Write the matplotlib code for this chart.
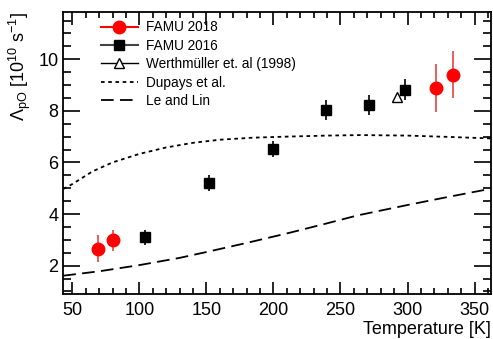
import numpy as np
import matplotlib
matplotlib.use('Agg')
import matplotlib.pyplot as plt
from matplotlib.ticker import MultipleLocator
from matplotlib.lines import Line2D

plt.rcParams['font.family'] = ['Liberation Sans', 'DejaVu Sans']
plt.rcParams['mathtext.fontset'] = 'custom'
plt.rcParams['mathtext.rm'] = 'Liberation Sans'
plt.rcParams['mathtext.it'] = 'Liberation Sans'

# FAMU 2018
t_2018 = [69.5, 80, 321, 334]
rate_2018 = [2.65, 2.98, 8.9, 9.4]
err_2018 = [0.52, 0.4, 0.93, 0.9]

# FAMU 2016
t_2016 = [104, 152, 200, 239, 271, 298]
rate_2016 = [3.1, 5.2, 6.52, 8.03, 8.23, 8.82]
err_2016 = [0.3, 0.3, 0.3, 0.4, 0.4, 0.4]

# Werthmueller et al. (1998)
t_wert = [292]
rate_wert = [8.54]

# Dupays et al. (theory)
t_dupays = [43.3, 50, 65, 80, 100, 120, 140, 160, 185, 210, 240, 265, 300, 330, 362]
rate_dupays = [4.97, 5.16, 5.65, 6.0, 6.33, 6.58, 6.76, 6.88, 6.96, 7.0, 7.04, 7.06, 7.04, 6.99, 6.93]

# Le and Lin (theory)
t_lelin = [43.3, 70, 100, 130, 152, 180, 211, 240, 263, 300, 330, 362]
rate_lelin = [1.61, 1.78, 2.02, 2.3, 2.55, 2.88, 3.26, 3.64, 3.95, 4.35, 4.66, 4.98]

dpi = 100
fig = plt.figure(figsize=(493 / dpi, 339 / dpi), dpi=dpi)
ax = fig.add_axes([0.1284, 0.1327, 0.9953 - 0.1284, 0.9646 - 0.1327])

ax.plot(t_dupays, rate_dupays, color='black', linestyle=(0, (2, 2)), linewidth=1.3)
ax.plot(t_lelin, rate_lelin, color='black', linestyle=(0, (7, 3.5)), linewidth=1.3)

ax.errorbar(t_2016, rate_2016, yerr=err_2016, fmt='s', color='black', markersize=7,
            elinewidth=1.2, capsize=0)
ax.plot(t_wert, rate_wert, '^', markerfacecolor='white', markeredgecolor='black',
        markersize=7, markeredgewidth=1)
ax.errorbar(t_2018, rate_2018, yerr=err_2018, fmt='o', color='red', ecolor='#f04040',
            markersize=9, elinewidth=1.2, capsize=0)

ax.set_xlim(43.3, 362)
ax.set_ylim(0.9, 11.83)
ax.xaxis.set_major_locator(MultipleLocator(50))
ax.xaxis.set_minor_locator(MultipleLocator(10))
ax.yaxis.set_major_locator(MultipleLocator(2))
ax.yaxis.set_minor_locator(MultipleLocator(0.5))
ax.tick_params(which='both', direction='in', top=True, right=True, labelsize=13, width=1.2)
ax.tick_params(axis='x', which='major', length=9, pad=6)
ax.tick_params(axis='x', which='minor', length=4.5)
ax.tick_params(axis='y', which='major', length=12)
ax.tick_params(axis='y', which='minor', length=6)
for s in ax.spines.values():
    s.set_linewidth(1.3)

ax.set_xlabel('Temperature [K]', fontsize=13, loc='right', labelpad=1)
ax.set_ylabel(r'$\Lambda_{\mathrm{pO}}$ [10$^{10}$ s$^{\mathrm{-1}}$]', fontsize=13, loc='top', labelpad=4)

handles = [
    Line2D([], [], color='red', marker='o', markersize=9),
    Line2D([], [], color='#444444', marker='s', markersize=7, markerfacecolor='black', markeredgecolor='black'),
    Line2D([], [], color='black', marker='^', markersize=7, markerfacecolor='white', linewidth=1),
    Line2D([], [], color='black', linestyle=(0, (2, 2)), linewidth=1.3),
    Line2D([], [], color='black', linestyle=(0, (7, 3.5)), linewidth=1.3),
]
labels = ['FAMU 2018', 'FAMU 2016', 'Werthmüller et. al (1998)', 'Dupays et al.', 'Le and Lin']
ax.legend(handles, labels, loc='upper left', bbox_to_anchor=(0.088, 0.970), frameon=False,
          borderaxespad=0, borderpad=0,
          fontsize=9.8, handlelength=2.7, handletextpad=0.6, labelspacing=0.32)

fig.savefig('out.png', dpi=dpi)
